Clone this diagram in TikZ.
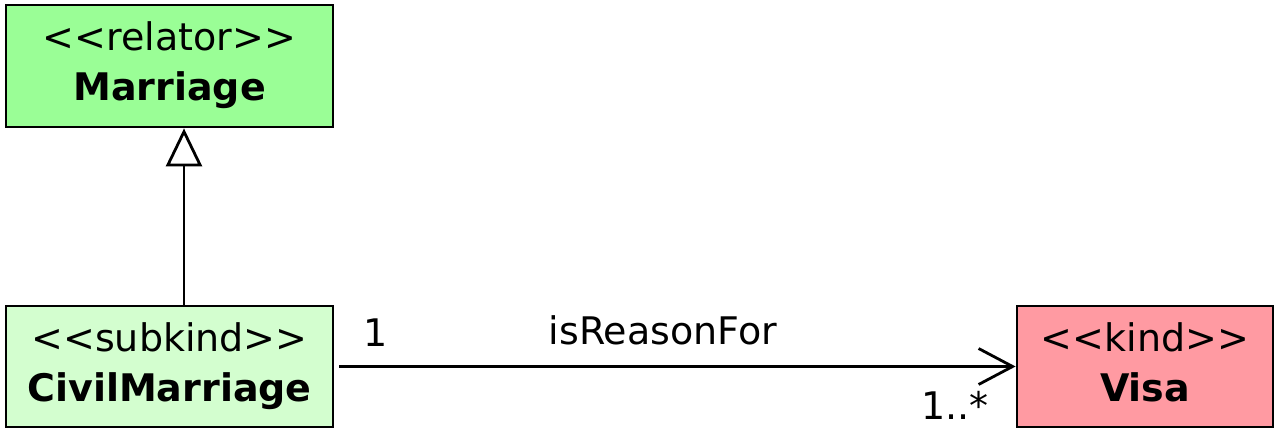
\documentclass[tikz,border=0pt]{standalone}
\usepackage{fontspec}
\setmainfont{DejaVu Sans}
\usetikzlibrary{arrows.meta,positioning,calc}
\definecolor{relatorgreen}{RGB}{154,254,150}
\definecolor{subkindgreen}{RGB}{211,254,207}
\definecolor{kindpink}{RGB}{255,154,162}
\newcommand{\stereo}[1]{<{}<#1>{}>}
\begin{document}
\begin{tikzpicture}[x=0.5pt,y=-0.5pt,
    umlclass/.style={rectangle, draw=black, line width=1.4pt, align=center, inner sep=0pt,
      font=\fontsize{19}{25}\selectfont},
    gen/.style={line width=1.4pt, -{Triangle[open, length=19pt, width=18pt, fill=white]}},
    assoc/.style={line width=1.4pt, -{Straight Barb[length=17pt, width=18pt, line width=1.4pt]}, shorten <=2.5pt},
    lbl/.style={font=\fontsize{19}{25}\selectfont, inner sep=0pt}]
  \useasboundingbox (0,0) rectangle (1284,437);
  \node[umlclass, fill=relatorgreen, minimum width=163.5pt, minimum height=61pt] (marriage) at (169.5,66) {\stereo{relator}\strut\\\textbf{Marriage}\strut};
  \node[umlclass, fill=subkindgreen, minimum width=163.5pt, minimum height=60.5pt] (civil) at (169.5,366.5) {\stereo{subkind}\strut\\\textbf{CivilMarriage}\strut};
  \node[umlclass, fill=kindpink, minimum width=128pt, minimum height=60.5pt] (visa) at (1145,366.5) {\stereo{kind}\strut\\\textbf{Visa}\strut};
  \coordinate (genx) at (184,0);
  \draw[gen] (genx |- civil.north) -- (genx |- marriage.south);
  \draw[assoc] (civil.east) -- (visa.west);
  \node[lbl] (srcmult) at (376,333) {1};
  \node[lbl] (assocname) at (663,330) {isReasonFor};
  \node[lbl] (tgtmult) at (955,405) {1..*};
\end{tikzpicture}
\end{document}
